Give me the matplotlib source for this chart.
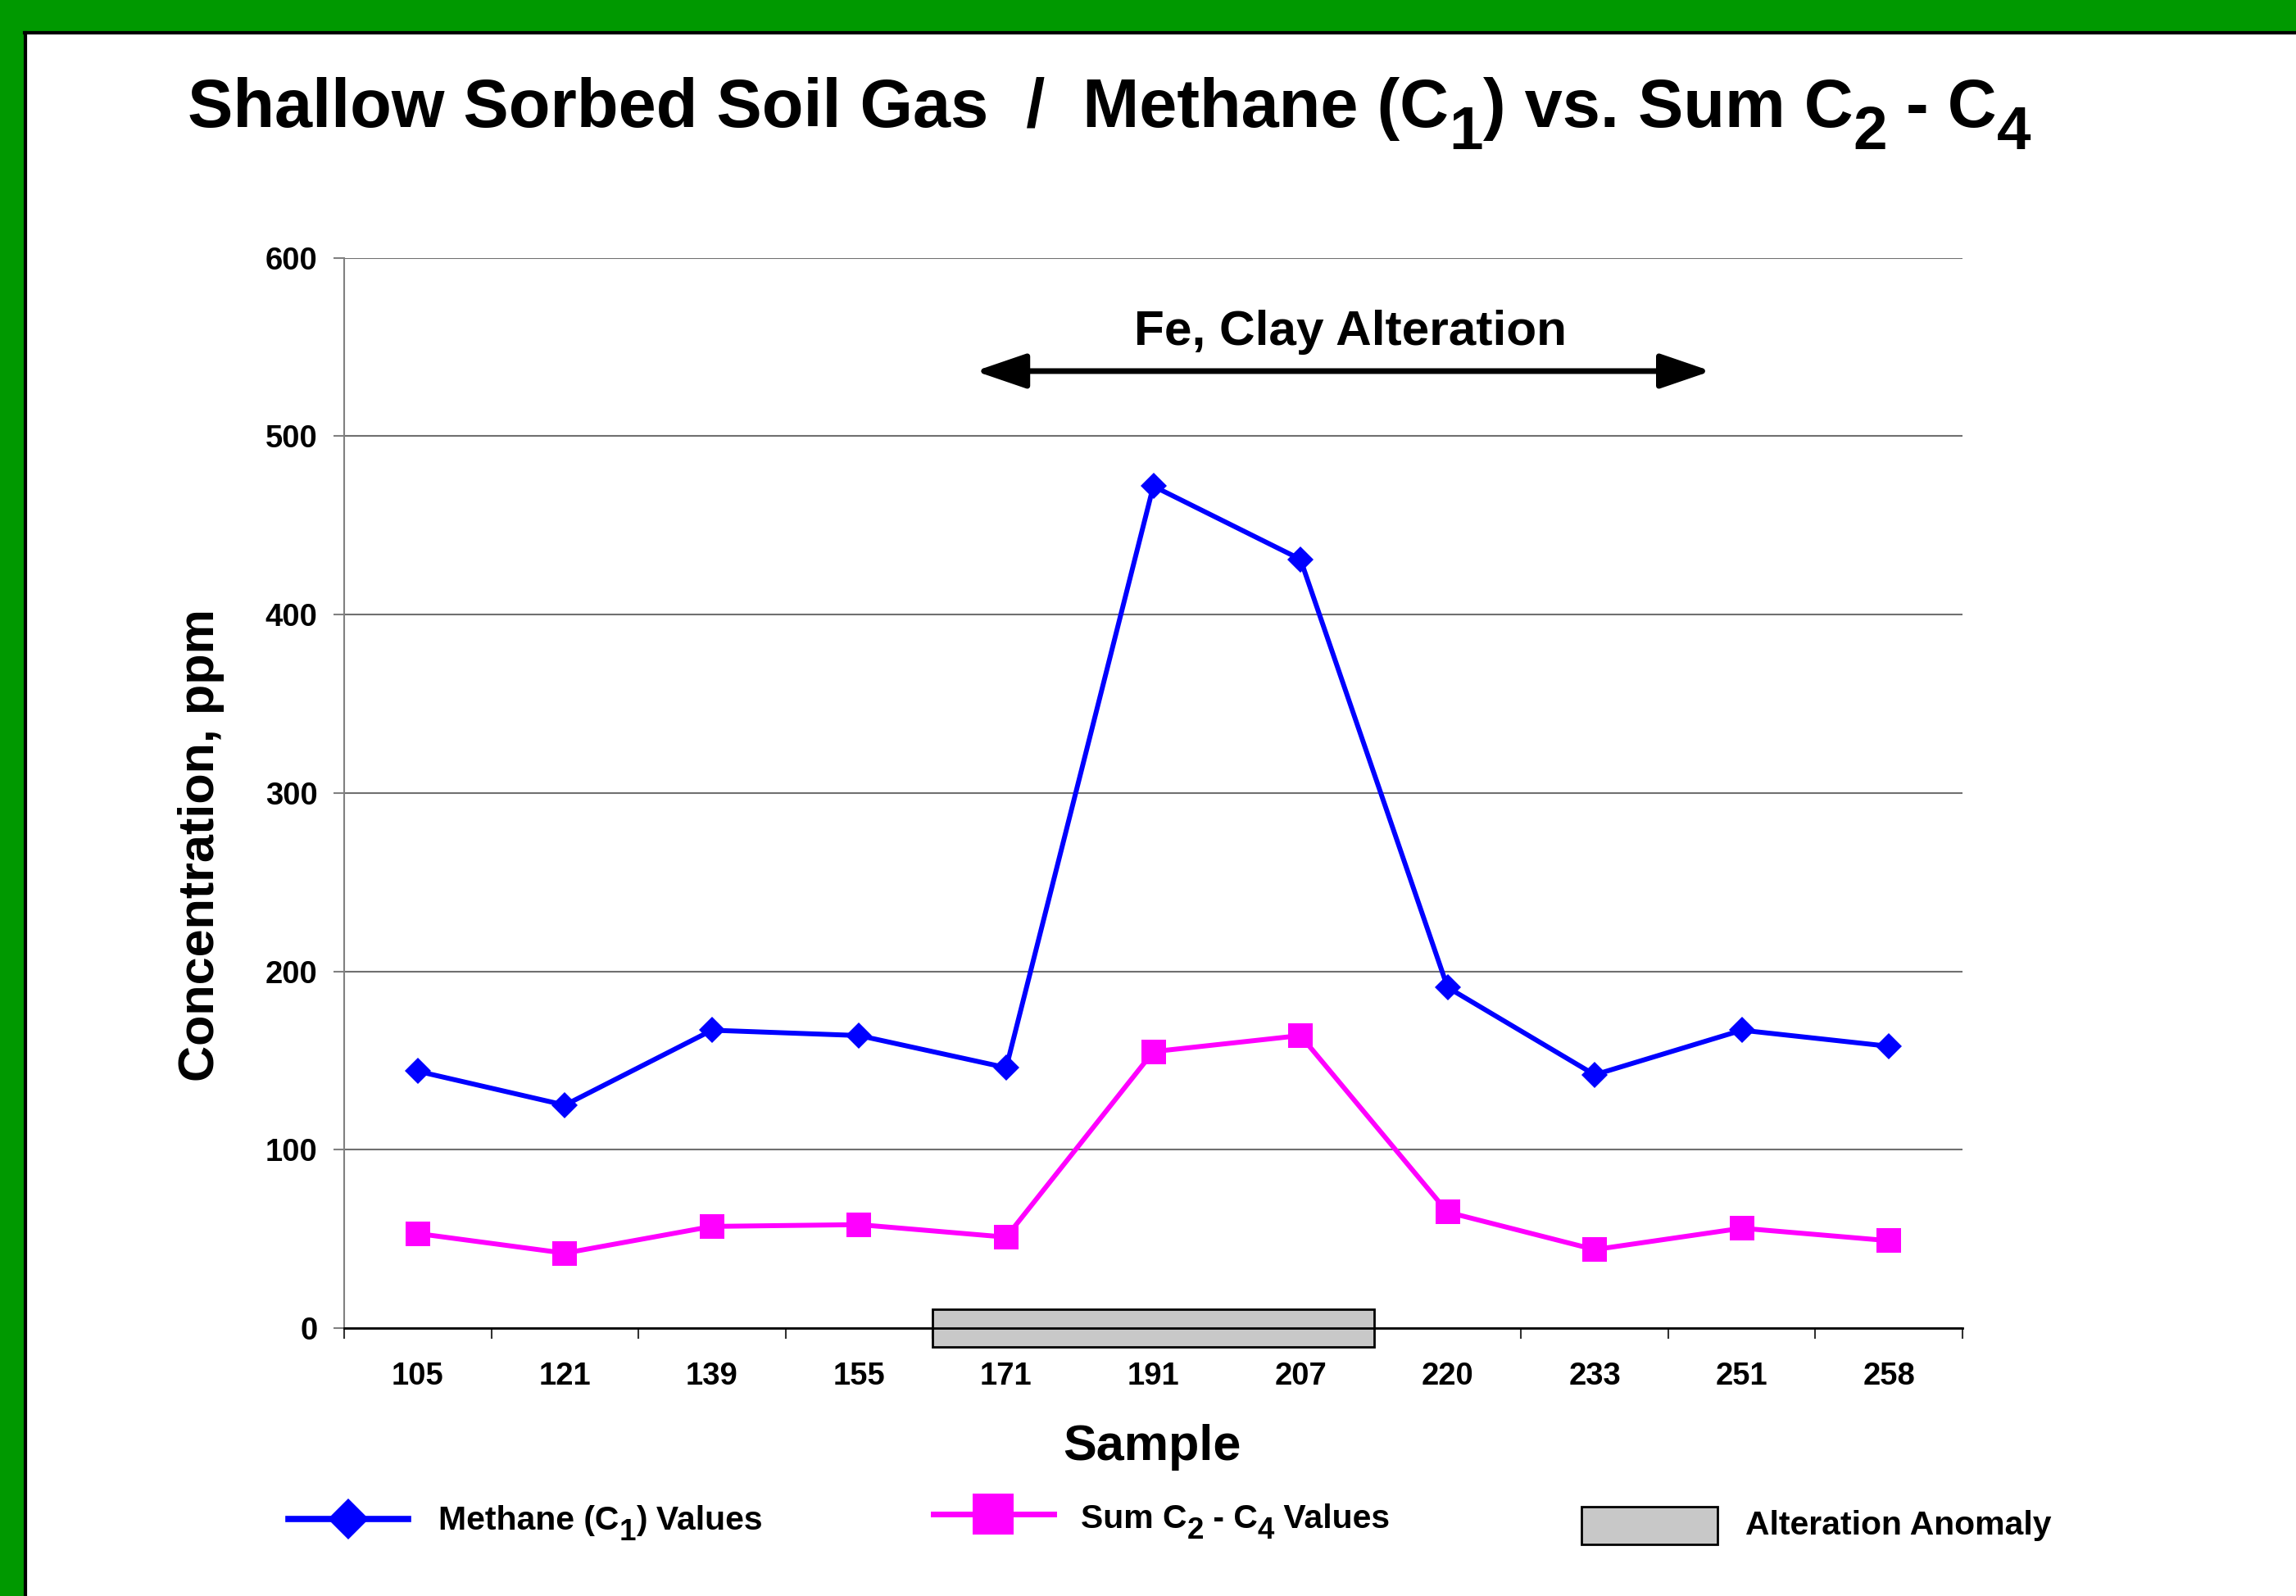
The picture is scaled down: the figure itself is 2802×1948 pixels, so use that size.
import matplotlib
matplotlib.use("Agg")
import matplotlib.pyplot as plt
from matplotlib.lines import Line2D
from matplotlib.patches import Rectangle

# ---------------- data ----------------
samples = ['105', '121', '139', '155', '171', '191', '207', '220', '233', '251', '258']
methane = [144, 125, 167, 164, 146, 472, 431, 191, 142, 167, 158]
sum_c2_c4 = [53, 42, 57, 58, 51, 155, 164, 65, 44, 56, 49]
alteration_samples = ['171', '191', '207']
y_ticks = [0, 100, 200, 300, 400, 500, 600]

plt.rcParams['font.family'] = ['Liberation Sans', 'DejaVu Sans']
plt.rcParams['font.weight'] = 'bold'

W, H = 2802, 1948
fig = plt.figure(figsize=(W / 100, H / 100), dpi=100)
fig.patch.set_facecolor('#009900')


def fx(x):
    return x / W


def fy(y):
    return 1 - y / H


# white page with black edge
fig.add_artist(Rectangle((fx(32), 0), 1 - fx(32), fy(40), transform=fig.transFigure,
                         facecolor='white', edgecolor='none', zorder=0))
fig.add_artist(Line2D([fx(30), 1], [fy(40), fy(40)], transform=fig.transFigure,
                      color='black', lw=3, zorder=1))
fig.add_artist(Line2D([fx(31), fx(31)], [fy(40), 0], transform=fig.transFigure,
                      color='black', lw=3, zorder=1))

ax = fig.add_axes([fx(420), fy(1621), (2395 - 420) / W, (1621 - 314.7) / H])
ax.set_facecolor('none')

x = list(range(len(samples)))
ax.plot(x, methane, color='#0000FF', lw=4.3, marker='D', ms=16, mec='#0000FF',
        mew=0, zorder=4, clip_on=False)
ax.plot(x, sum_c2_c4, color='#FF00FF', lw=4.3, marker='s', ms=21, mec='#FF00FF',
        mew=0, zorder=4, clip_on=False)

ax.set_xlim(-0.5, len(samples) - 0.5)
ax.set_ylim(0, 600)

# y axis
ax.set_yticks(y_ticks)
ax.set_yticklabels([str(v) for v in y_ticks], fontsize=27.5, fontweight='bold')
ax.tick_params(axis='y', direction='out', length=9.4, width=1.5, color='#808080', pad=14)
ax.yaxis.grid(True, color='#707070', lw=1.5)
ax.set_axisbelow(True)

# x axis: ticks at boundaries, labels at centres
ax.set_xticks([i - 0.5 for i in range(len(samples) + 1)])
ax.set_xticklabels([])
ax.set_xticks(x, minor=True)
ax.set_xticklabels(samples, minor=True, fontsize=27.5, fontweight='bold')
ax.tick_params(axis='x', which='major', direction='out', length=9, width=1.5, color='#333333')
ax.tick_params(axis='x', which='minor', length=0, pad=29.5)

for s in ['top', 'right']:
    ax.spines[s].set_visible(False)
ax.spines['left'].set_color('#808080')
ax.spines['left'].set_linewidth(1.5)
ax.spines['bottom'].set_color('black')
ax.spines['bottom'].set_linewidth(2)

# alteration anomaly box
i0 = samples.index(alteration_samples[0]) - 0.5
i1 = samples.index(alteration_samples[-1]) + 0.5
ax.add_patch(Rectangle((i0, -10.6), i1 - i0, 21.2, facecolor='#C8C8C8', edgecolor='black',
                       lw=2, clip_on=False, zorder=2))

# Fe, Clay Alteration arrow
ax.annotate('', xy=(8.79, 536.5), xytext=(3.79, 536.5),
            arrowprops=dict(arrowstyle='<|-|>,head_length=38,head_width=13',
                            mutation_scale=1, lw=5, color='black',
                            shrinkA=0, shrinkB=0), annotation_clip=False)
ax.text(6.34, 551, 'Fe, Clay Alteration', fontsize=43.5, fontweight='bold',
        ha='center', va='baseline')

# axis labels
fig.text(fx(1406), fy(1782), 'Sample', fontsize=44, fontweight='bold', ha='center', va='baseline')
fig.text(fx(245), fy(1032), 'Concentration, ppm', fontsize=44, fontweight='bold',
         rotation=90, ha='center', va='center')

renderer = fig.canvas.get_renderer()


def rich_text(x_px, y_base_px, pieces, fontsize, sub_scale=0.9, shift=0.32):
    cur = x_px
    px_per_pt = 100 / 72
    for s, kind in pieces:
        if kind == 'n':
            fs, dy = fontsize, 0
        else:
            fs, dy = fontsize * sub_scale, shift * fontsize * px_per_pt
        t = fig.text(fx(cur), fy(y_base_px + dy), s, fontsize=fs, fontweight='bold',
                     ha='left', va='baseline')
        bb = t.get_window_extent(renderer)
        cur = bb.x1


# title
rich_text(229, 155, [('Shallow Sorbed Soil Gas  /  Methane (C', 'n'), ('1', 's'),
                     (') vs. Sum C', 'n'), ('2', 's'), (' - C', 'n'), ('4', 's')], 59.8)

# legend
fig.add_artist(Line2D([fx(352), fx(498)], [fy(1854), fy(1854)], transform=fig.transFigure,
                      color='#0000FF', lw=5.5))
fig.add_artist(Line2D([fx(425)], [fy(1854)], transform=fig.transFigure, color='#0000FF',
                      marker='D', ms=25, mew=0, lw=0))
rich_text(535, 1867, [('Methane (C', 'n'), ('1', 's'), (') Values', 'n')], 29.4)

fig.add_artist(Line2D([fx(1139), fx(1286)], [fy(1848), fy(1848)], transform=fig.transFigure,
                      color='#FF00FF', lw=5))
fig.add_artist(Line2D([fx(1212)], [fy(1848)], transform=fig.transFigure, color='#FF00FF',
                      marker='s', ms=36, mew=0, lw=0))
rich_text(1319, 1865, [('Sum C', 'n'), ('2', 's'), (' - C', 'n'), ('4', 's'), (' Values', 'n')], 29.4)

fig.add_artist(Rectangle((fx(1930), fy(1885)), (2096 - 1930) / W, (1885 - 1839) / H,
                         transform=fig.transFigure, facecolor='#C8C8C8', edgecolor='black', lw=2))
fig.text(fx(2130), fy(1873), 'Alteration Anomaly', fontsize=29.4, fontweight='bold',
         ha='left', va='baseline')

fig.savefig('out.png', dpi=100, facecolor=fig.get_facecolor())
